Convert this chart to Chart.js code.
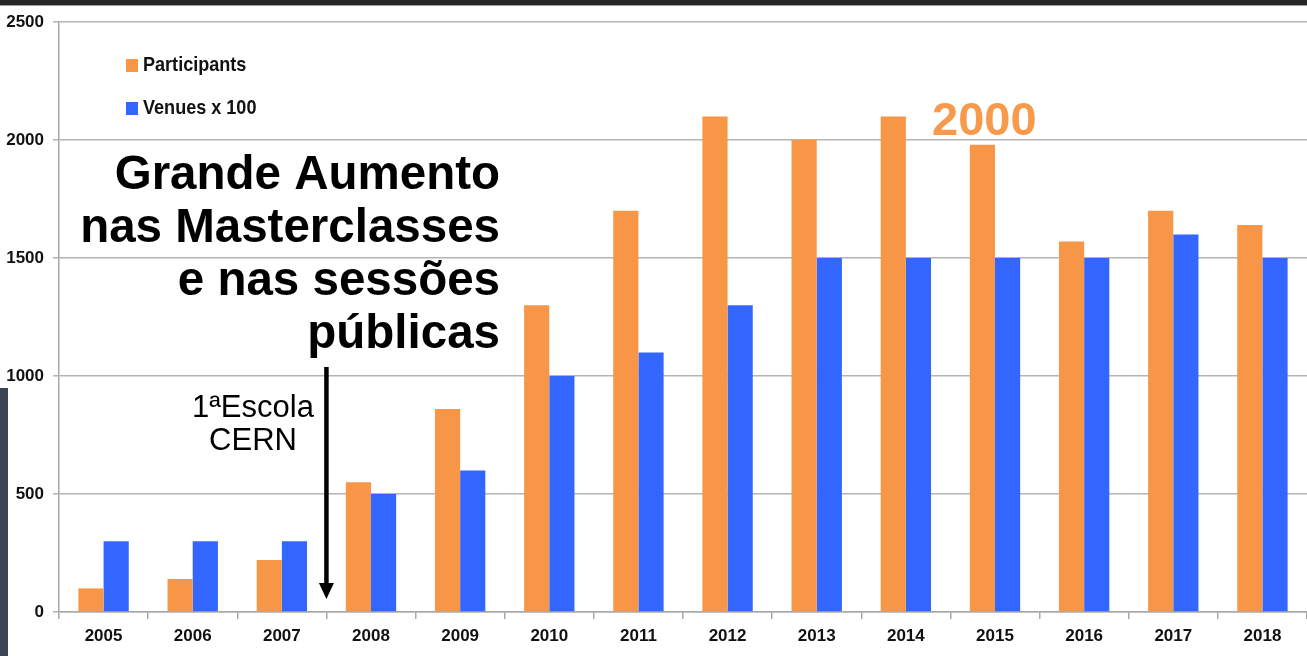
<!DOCTYPE html>
<html>
<head>
<meta charset="utf-8">
<script src="https://cdn.jsdelivr.net/npm/chart.js@4/dist/chart.umd.min.js"></script>
<style>
  html, body { margin: 0; padding: 0; background: #fff; overflow: hidden; }
  #wrap { position: relative; width: 1307px; height: 656px; }
  #topEdge { position: absolute; left: 0; top: 0; width: 1307px; height: 5px; background: #262626; border-bottom: 1px solid #9a9a9a; }
  #leftEdge { position: absolute; left: 0; top: 388px; width: 8px; height: 268px; background: #3b4556; }
  canvas { position: absolute; left: 0; top: 0; }
</style>
</head>
<body>
<div id="wrap">
  <canvas id="masterclassChart" width="1307" height="656"></canvas>
  <div id="topEdge"></div>
  <div id="leftEdge"></div>
</div>
<script>
const years = ['2005', '2006', '2007', '2008', '2009', '2010', '2011', '2012', '2013', '2014', '2015', '2016', '2017', '2018']
const participants = [100, 140, 220, 550, 860, 1300, 1700, 2100, 2000, 2100, 1980, 1570, 1700, 1640]
const venuesX100 = [300, 300, 300, 500, 600, 1000, 1100, 1300, 1500, 1500, 1500, 1500, 1600, 1500]
const yTicks = [0, 500, 1000, 1500, 2000, 2500]

const ORANGE = '#f79646'
const BLUE = '#3366ff'
const tickFont = {family: '"Liberation Sans", Arial, sans-serif', size: 17, weight: 'bold'}

const headline = ['Grande Aumento', 'nas Masterclasses', 'e nas sessões', 'públicas']
const note = ['1ªEscola', 'CERN']

// legend, annotations and the arrow, drawn on top of the plot
const annotations = {
    id: 'annotations',
    afterDatasetsDraw(chart) {
        const ctx = chart.ctx
        const x = chart.scales.x
        ctx.save()

        // legend (text squeezed a bit, the slide font is narrow)
        ctx.textBaseline = 'middle'
        chart.data.datasets.forEach((ds, i) => {
            const y = 65 + i * 43
            ctx.fillStyle = ds.backgroundColor
            ctx.fillRect(126, y - 6, 12, 13)
            ctx.save()
            ctx.translate(143, y)
            ctx.scale(0.86, 1)
            ctx.font = 'bold 21px "Liberation Sans", Arial, sans-serif'
            ctx.fillStyle = '#111'
            ctx.fillText(ds.label, 0, 0)
            ctx.restore()
        })

        // headline
        ctx.textBaseline = 'alphabetic'
        ctx.textAlign = 'right'
        ctx.fillStyle = '#000'
        ctx.font = 'bold 47.5px "Liberation Sans", Arial, sans-serif'
        headline.forEach((line, i) => ctx.fillText(line, 500, 189 + i * 53))

        // first CERN school
        ctx.textAlign = 'center'
        ctx.font = '31px "Liberation Sans", Arial, sans-serif'
        note.forEach((line, i) => ctx.fillText(line, 253, 417 + i * 33))

        // arrow between 2007 and 2008
        const ax = (x.getPixelForValue(2) + x.getPixelForValue(3)) / 2
        ctx.strokeStyle = '#000'
        ctx.lineWidth = 4.5
        ctx.beginPath()
        ctx.moveTo(ax, 367)
        ctx.lineTo(ax, 586)
        ctx.stroke()
        ctx.beginPath()
        ctx.moveTo(ax - 7.5, 583)
        ctx.lineTo(ax + 7.5, 583)
        ctx.lineTo(ax, 599)
        ctx.closePath()
        ctx.fill()

        // 2000 label
        ctx.textAlign = 'left'
        ctx.fillStyle = '#f89a4b'
        ctx.font = 'bold 47px "Liberation Sans", Arial, sans-serif'
        ctx.fillText('2000', 932, 135)

        ctx.restore()
    }
}

document.addEventListener('DOMContentLoaded', () => {
    const context = document.getElementById('masterclassChart').getContext('2d')

    new Chart(context, {
        type: 'bar',
        data: {
            labels: years,
            datasets: [
                {label: 'Participants', data: participants, backgroundColor: ORANGE},
                {label: 'Venues x 100', data: venuesX100, backgroundColor: BLUE}
            ]
        },
        options: {
            responsive: false,
            animation: false,
            devicePixelRatio: 1,
            layout: {padding: {top: 22, right: 0, bottom: 0, left: 0}},
            datasets: {
                bar: {categoryPercentage: 0.565, barPercentage: 1.0, borderWidth: 0}
            },
            scales: {
                x: {
                    grid: {drawOnChartArea: false, tickLength: 7, color: '#a8a8a8', lineWidth: 1.5},
                    border: {color: '#a8a8a8', width: 1.5},
                    ticks: {color: '#111', font: tickFont, padding: 7, maxRotation: 0},
                    afterFit(scale) { scale.height = 44 }
                },
                y: {
                    min: 0,
                    max: 2500,
                    afterBuildTicks(scale) { scale.ticks = yTicks.map(v => ({value: v})) },
                    grid: {color: '#b4b4b4', lineWidth: 1.5, tickLength: 6},
                    border: {color: '#a8a8a8', width: 1.5},
                    ticks: {color: '#111', font: tickFont, padding: 9, callback: v => String(v)},
                    afterFit(scale) { scale.width = 59 }
                }
            },
            plugins: {
                legend: {display: false},
                tooltip: {enabled: false}
            }
        },
        plugins: [annotations]
    })
})
</script>
</body>
</html>
